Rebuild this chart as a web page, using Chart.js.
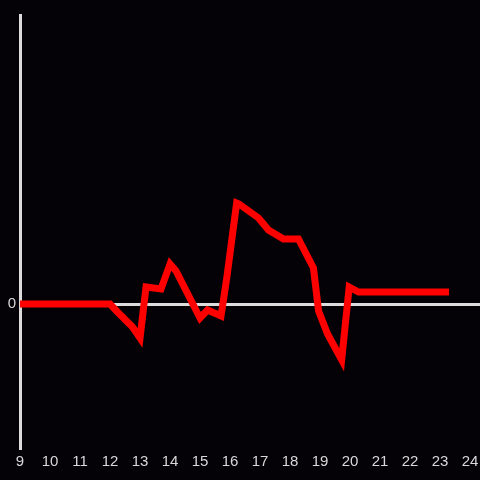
<!DOCTYPE html>
<html>
<head>
<meta charset="utf-8">
<script src="https://cdn.jsdelivr.net/npm/chart.js@4"></script>
<style>
  html, body { margin: 0; padding: 0; background: #040206; }
  #wrap { width: 480px; height: 480px; }
</style>
</head>
<body>
<div id="wrap"><canvas id="lineChart"></canvas></div>
<script>
// hours of the day and the value
const hours  = [9, 12, 12.25, 12.75, 13, 13.2, 13.7, 14, 14.2, 15, 15.25, 15.7, 15.9, 16.22, 16.3, 16.95, 17.28, 17.78, 18.28, 18.78, 18.95, 19.25, 19.72, 19.97, 20.28, 23.3];
const values = [0, 0, -8, -23, -34, 17, 15, 40, 33, -14, -6, -12, 28, 101, 100, 86, 74, 65, 65, 36, -7, -30, -56, 17, 12, 12];
const xTicks = [9, 10, 11, 12, 13, 14, 15, 16, 17, 18, 19, 20, 21, 22, 23, 24];
const yTicks = [0];

const points = hours.map((h, i) => ({ x: h, y: values[i] }));

// paint the canvas background
const bgPlugin = {
    id: 'bg',
    beforeDraw(chart) {
        const c = chart.ctx;
        c.save();
        c.fillStyle = '#040206';
        c.fillRect(0, 0, chart.width, chart.height);
        c.restore();
    }
};

const ctx = document.getElementById('lineChart').getContext('2d');
new Chart(ctx, {
    type: 'line',
    data: {
        datasets: [{
            data: points,
            borderColor: '#ff0000',
            borderWidth: 7,
            borderJoinStyle: 'miter',
            pointRadius: 0,
            tension: 0,
            fill: false
        }]
    },
    options: {
        responsive: true,
        maintainAspectRatio: false,
        animation: false,
        layout: { padding: { top: 15, right: 0, left: 0, bottom: 0 } },
        plugins: { legend: { display: false }, tooltip: { enabled: false } },
        scales: {
            x: {
                type: 'linear',
                min: 9,
                max: 24.33,
                afterBuildTicks: s => { s.ticks = xTicks.map(v => ({ value: v })); },
                afterFit: s => { s.height = 32; s.paddingRight = 0; s.paddingLeft = 0; },
                grid: { display: false, drawTicks: false },
                border: { display: false },
                ticks: {
                    color: '#d8d8d8',
                    padding: 5,
                    maxRotation: 0,
                    autoSkip: false,
                    font: { family: 'Liberation Sans', size: 15 }
                }
            },
            y: {
                min: -144,
                max: 289,
                afterBuildTicks: s => { s.ticks = yTicks.map(v => ({ value: v })); },
                afterFit: s => { s.width = 20; },
                grid: { color: '#dcdcdc', lineWidth: 3, drawTicks: false },
                border: { color: '#dcdcdc', width: 3 },
                ticks: {
                    color: '#d8d8d8',
                    padding: 4,
                    font: { family: 'Liberation Sans', size: 15 }
                }
            }
        }
    },
    plugins: [bgPlugin]
});
</script>
</body>
</html>
